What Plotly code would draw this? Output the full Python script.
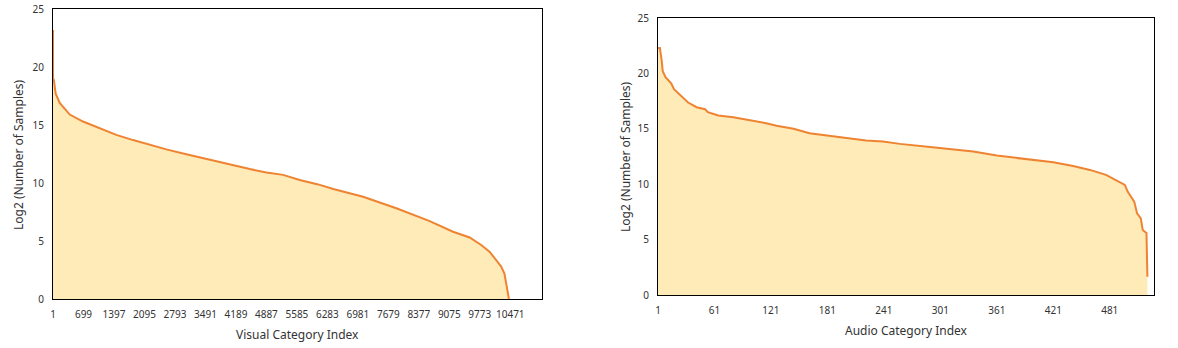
import plotly.graph_objects as go

# valores (indice de categoria, log2 del numero de muestras)
visual_idx = [1, 2, 20, 40, 62, 155, 384, 688, 1070, 1450, 1834, 2216, 2597, 2980, 3360,
              3742, 4125, 4505, 4888, 5270, 5650, 6050, 6440, 7100, 7862, 8625, 9160, 9540,
              9805, 9995, 10148, 10262, 10337, 10377, 10415, 10430, 10440]
visual_log2 = [23.2, 19.0, 18.9, 18.3, 17.7, 16.9, 15.9, 15.3, 14.73, 14.15, 13.7, 13.28, 12.9,
               12.55, 12.2, 11.85, 11.5, 11.2, 10.9, 10.7, 10.26, 9.9, 9.46, 8.82, 7.82, 6.72,
               5.8, 5.3, 4.66, 4.08, 3.36, 2.79, 2.2, 1.35, 0.63, 0.2, 0.0]

audio_idx = [1, 3, 5, 6, 9, 15, 18, 24, 33, 42, 51, 54, 65, 81, 98, 116, 127, 145, 162, 180,
             201, 222, 240, 258, 290, 315, 336, 361, 396, 421, 442, 460, 477, 491, 497, 500,
             507, 510, 514, 516, 519, 520, 521]
audio_log2 = [22.3, 22.3, 21.1, 20.2, 19.66, 19.1, 18.58, 18.07, 17.37, 16.95, 16.77, 16.5, 16.2,
              16.05, 15.8, 15.5, 15.27, 15.0, 14.6, 14.39, 14.15, 13.94, 13.85, 13.64, 13.35,
              13.1, 12.95, 12.58, 12.2, 11.98, 11.65, 11.29, 10.84, 10.24, 9.94, 9.33, 8.43,
              7.38, 6.92, 5.87, 5.72, 5.6, 1.65]

visual_ticks = list(range(1, 10472, 698))
audio_ticks = list(range(1, 482, 60))

linea = "#EE8332"
relleno = "#FEEBB8"
fuente = "Noto Sans"

W, H = 1178, 348


def px_x(sx):
    return sx / W


def px_y(sy):
    return 1 - sy / H


fig = go.Figure()
fig.add_trace(go.Scatter(
    x=visual_idx, y=visual_log2, mode="lines", fill="tozeroy",
    line=dict(color=linea, width=2), fillcolor=relleno,
    xaxis="x", yaxis="y", showlegend=False
))
fig.add_trace(go.Scatter(
    x=audio_idx, y=audio_log2, mode="lines", fill="tozeroy",
    line=dict(color=linea, width=2), fillcolor=relleno,
    xaxis="x2", yaxis="y2", showlegend=False
))

eje = dict(showline=True, linecolor="black", linewidth=1, mirror=True,
           showgrid=False, zeroline=False, ticks="", automargin=False,
           tickfont=dict(family=fuente, size=10, color="#333333"))

fig.update_layout(
    width=W, height=H,
    margin=dict(l=0, r=0, t=0, b=0),
    plot_bgcolor="white", paper_bgcolor="white",
    font=dict(family=fuente, color="#333333"),
    xaxis=dict(eje, domain=[px_x(53), px_x(542)], range=[1, 11197], ticklabelstandoff=6,
               tickvals=visual_ticks, ticktext=[str(t) for t in visual_ticks], anchor="y"),
    yaxis=dict(eje, domain=[px_y(299), px_y(9)], range=[0, 25], dtick=5,
               ticklabelstandoff=6, anchor="x"),
    xaxis2=dict(eje, domain=[px_x(658), px_x(1154)], range=[1, 528], ticklabelstandoff=6,
                tickvals=audio_ticks, ticktext=[str(t) for t in audio_ticks], anchor="y2"),
    yaxis2=dict(eje, domain=[px_y(295), px_y(18)], range=[0, 25], dtick=5,
                ticklabelstandoff=6, anchor="x2"),
)

titulos = [
    ("Visual Category Index", 297, 334, 0),
    ("Log2 (Number of Samples)", 18, 155, -90),
    ("Audio Category Index", 906, 330, 0),
    ("Log2 (Number of Samples)", 626, 157, -90),
]
for texto, sx, sy, ang in titulos:
    fig.add_annotation(text=texto, x=px_x(sx), y=px_y(sy), xref="paper", yref="paper",
                       xanchor="center", yanchor="middle",
                       showarrow=False, textangle=ang,
                       font=dict(family=fuente, size=12, color="#333333"))

# quitar el margen por defecto del body para que la figura empiece en (0, 0)
fig.write_html("out.html", config={"displayModeBar": False},
               post_script="document.body.style.margin = '0';")
